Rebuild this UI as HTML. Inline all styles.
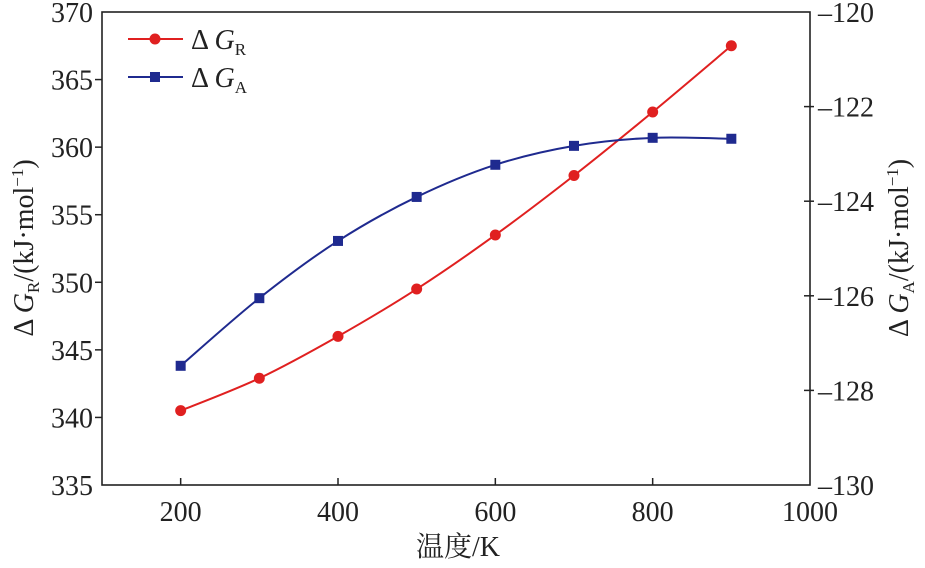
<!DOCTYPE html>
<html><head><meta charset="utf-8"><style>
body{margin:0;background:#fff;width:925px;height:563px;overflow:hidden}
text{font-family:"Liberation Serif","Noto Serif CJK SC",serif;fill:#222}
</style></head><body>
<svg id="chart" width="925" height="563" xmlns="http://www.w3.org/2000/svg"></svg>
<script>
const temps=[200,300,400,500,600,700,800,900];
const gR=[340.5,342.9,346.0,349.5,353.5,357.9,362.6,367.5];
const gA=[-127.48,-126.05,-124.84,-123.91,-123.23,-122.83,-122.66,-122.68];
const xTicks=[200,400,600,800,1000];
const yLTicks=[335,340,345,350,355,360,365,370];
const yRTicks=[-130,-128,-126,-124,-122,-120];
const L=102,R=810,T=12,B=485;
const sx=v=>L+(v-100)/900*(R-L);
const syL=v=>B-(v-335)/35*(B-T);
const syR=v=>B-(v+130)/10*(B-T);
const svg=document.getElementById('chart');
const NS='http://www.w3.org/2000/svg';
function mk(tag,attrs,parent){const e=document.createElementNS(NS,tag);for(const k in attrs)e.setAttribute(k,attrs[k]);(parent||svg).appendChild(e);return e;}
function smooth(pts){let d=`M${pts[0][0]},${pts[0][1]}`;for(let i=0;i<pts.length-1;i++){const p0=pts[Math.max(0,i-1)],p1=pts[i],p2=pts[i+1],p3=pts[Math.min(pts.length-1,i+2)];const c1=[p1[0]+(p2[0]-p0[0])/6,p1[1]+(p2[1]-p0[1])/6],c2=[p2[0]-(p3[0]-p1[0])/6,p2[1]-(p3[1]-p1[1])/6];d+=` C${c1[0]},${c1[1]} ${c2[0]},${c2[1]} ${p2[0]},${p2[1]}`;}return d;}
let fr=mk('rect',{x:L,y:T,width:R-L,height:B-T,fill:'none',stroke:'#222','stroke-width':1.6});

xTicks.forEach(v=>{const x=sx(v);if(v<1000)mk('line',{x1:x,y1:B,x2:x,y2:B-7,stroke:'#222','stroke-width':1.5});
const t=mk('text',{x:x,y:B+36,'font-size':28,'text-anchor':'middle'});t.textContent=v;
});
yLTicks.forEach(v=>{const y=syL(v);if(v>335&&v<370)mk('line',{x1:L,y1:y,x2:L-7,y2:y,stroke:'#222','stroke-width':1.5});
const t=mk('text',{x:L-9,y:y+10,'font-size':28,'text-anchor':'end'});t.textContent=v;
});
yRTicks.forEach(v=>{const y=syR(v);if(v>-130&&v<-120)mk('line',{x1:R-6,y1:y,x2:R+4,y2:y,stroke:'#222','stroke-width':1.5});
const t=mk('text',{x:R+8,y:y+10,'font-size':28,'text-anchor':'start'});t.textContent='\u2013'+Math.abs(v);
});
let xt=mk('text',{x:458,y:556,'font-size':28,'text-anchor':'middle'});xt.textContent='温度/K';

let yl=mk('text',{transform:'translate(33,248) rotate(-90)','font-size':28,'text-anchor':'middle'});
yl.innerHTML='Δ <tspan font-style="italic">G</tspan><tspan font-size="17" dy="6">R</tspan><tspan dy="-6">/(kJ·mol</tspan><tspan font-size="17" dy="-10">−1</tspan><tspan dy="10">)</tspan>';

let yr=mk('text',{transform:'translate(908,248) rotate(-90)','font-size':28,'text-anchor':'middle'});
yr.innerHTML='Δ <tspan font-style="italic">G</tspan><tspan font-size="17" dy="6">A</tspan><tspan dy="-6">/(kJ·mol</tspan><tspan font-size="17" dy="-10">−1</tspan><tspan dy="10">)</tspan>';

const pr=temps.map((t,i)=>[sx(t),syL(gR[i])]);
const pa=temps.map((t,i)=>[sx(t),syR(gA[i])]);
let lr=mk('path',{d:smooth(pr),fill:'none',stroke:'#e02020','stroke-width':2});

let la=mk('path',{d:smooth(pa),fill:'none',stroke:'#1f2a8f','stroke-width':2});

pr.forEach(p=>{const c=mk('circle',{cx:p[0],cy:p[1],r:5.5,fill:'#e02020'});
});
pa.forEach(p=>{const c=mk('rect',{x:p[0]-5,y:p[1]-5,width:10,height:10,fill:'#1f2a8f'});
});
let g1=mk('g',{});
mk('line',{x1:128,y1:39,x2:183,y2:39,stroke:'#e02020','stroke-width':2},g1);
mk('circle',{cx:155,cy:39,r:5.5,fill:'#e02020'},g1);
let t1=mk('text',{x:191,y:49,'font-size':28},g1);t1.innerHTML='Δ <tspan font-style="italic">G</tspan><tspan font-size="17" dy="6">R</tspan>';
let g2=mk('g',{});
mk('line',{x1:128,y1:77,x2:183,y2:77,stroke:'#1f2a8f','stroke-width':2},g2);
mk('rect',{x:150,y:72,width:10,height:10,fill:'#1f2a8f'},g2);
let t2=mk('text',{x:191,y:87,'font-size':28},g2);t2.innerHTML='Δ <tspan font-style="italic">G</tspan><tspan font-size="17" dy="6">A</tspan>';
</script>
</body></html>
